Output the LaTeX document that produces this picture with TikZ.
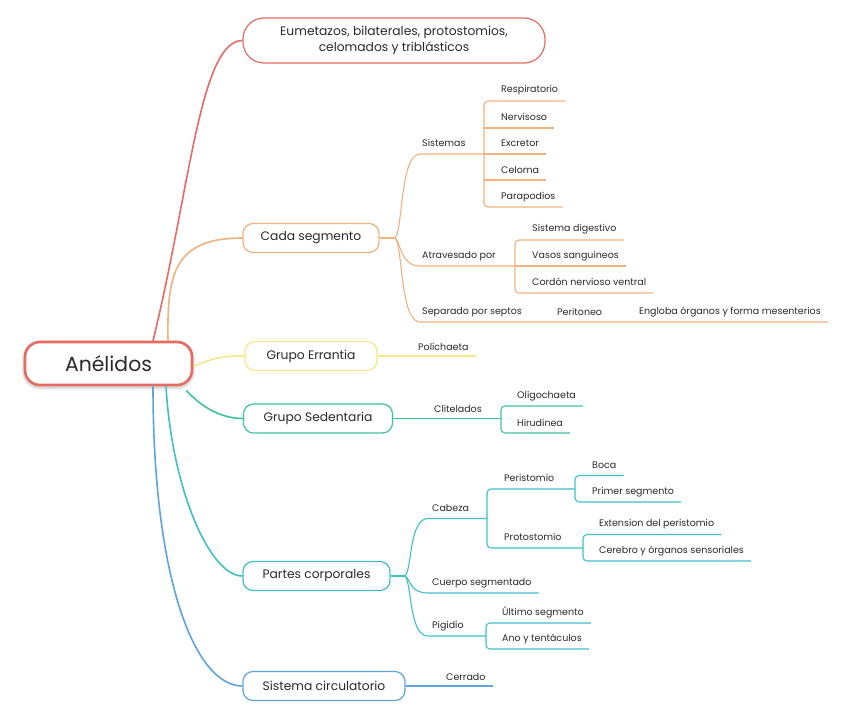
\documentclass[tikz,border=0pt]{standalone}
\usepackage{fontspec}
\setmainfont{Poppins}
\begin{document}
\begin{tikzpicture}[x=1pt,y=-1pt,
  txt/.style={text=textc,inner ysep=0pt,inner xsep=7pt,anchor=west,font=\fontsize{9.5}{11}\selectfont},
  lvl/.style={draw=#1,line width=1.2pt,rounded corners=10pt,minimum height=29pt,inner sep=0pt,text=textc,font=\fontsize{12.3}{14}\selectfont},
  con/.style={draw=#1,line width=1.6pt},
  sub/.style={draw=#1,line width=1.1pt,rounded corners=4pt},
  ]
\definecolor{textc}{HTML}{2A2A2A}
\definecolor{cred}{HTML}{E56B63}
\definecolor{corange}{HTML}{F2B27F}
\definecolor{cyellow}{HTML}{F5E88A}
\definecolor{cgreen}{HTML}{3FC2A0}
\definecolor{cteal}{HTML}{40BFC9}
\definecolor{cblue}{HTML}{5FA3DF}
\useasboundingbox[fill=white] (0,0) rectangle (848,725);

% ---------- root ----------
\foreach \w/\o in {7/0.04,5/0.05,3.5/0.06}{
  \draw[line width=\w pt,draw=black,opacity=\o,rounded corners=15pt] (25,343.5) rectangle (192,386.5);}
\node[draw=cred,line width=2.6pt,rounded corners=15pt,fill=white,minimum width=167pt,minimum height=43pt,inner sep=0pt,text=textc,font=\fontsize{20.4}{23}\selectfont] (root) at (108.5,363.5) {Anélidos};

% ---------- level 1 ----------
\node[lvl=cred,rounded corners=21pt,minimum width=302pt,minimum height=45pt,align=center,font=\fontsize{12.3}{16}\selectfont] (top) at (394,40.5) {Eumetazos, bilaterales, protostomios,\\celomados y triblásticos};
\node[lvl=corange,minimum width=136pt] (cada) at (311,238) {Cada segmento};
\node[lvl=cyellow,minimum width=132pt] (erran) at (311,356) {Grupo Errantia};
\node[lvl=cgreen,minimum width=149pt] (sed) at (318,418.5) {Grupo Sedentaria};
\node[lvl=cteal,minimum width=147pt] (partes) at (316.5,576) {Partes corporales};
\node[lvl=cblue,minimum width=162pt] (circ) at (324,686) {Sistema circulatorio};

% ---------- root connectors ----------
\draw[con=cred] ([xshift=44.5pt]root.north) .. controls (190,190) and (200,40.5) .. (top.west);
\draw[con=corange] ([xshift=59.5pt]root.north) .. controls (167,275) and (173,238) .. (cada.west);
\draw[con=cyellow] ([yshift=-3pt]root.east) .. controls (215,357) and (225,356) .. (erran.west);
\draw[con=cgreen] ([xshift=-7pt,yshift=-4pt]root.south east) .. controls (195,400) and (215,418.5) .. (sed.west);
\draw[con=cteal] ([xshift=57.5pt]root.south) .. controls (172,490) and (210,576) .. (partes.west);
\draw[con=cblue] ([xshift=44.5pt]root.south) .. controls (153,580) and (195,686) .. (circ.west);

% ---------- Cada segmento ----------
\coordinate (cadaJ) at (395,238);
\node[txt] (sist) at (415,143) {Sistemas};
\node[txt] (atrav) at (415,256) {Atravesado por};
\node[txt] (sep) at (415,312) {Separado por septos};
\node[txt] (perit) at (550,312) {Peritoneo};
\node[txt] (engl) at (632,312) {Engloba órganos y forma mesenterios};
\coordinate (sistB) at (484,154);
\coordinate (atravB) at (515,266);
\coordinate (sepE) at (420,322);
\draw[con=corange,line width=1.1pt] (cada.east) -- (cadaJ);
\draw[con=corange,line width=1.1pt] (cadaJ) .. controls (403,230) and (400,154) .. (420,154) -- (sistB);
\draw[con=corange,line width=1.1pt] (cadaJ) .. controls (401,242) and (400,266) .. (420,266) -- (atravB);
\draw[con=corange,line width=1.1pt] (cadaJ) .. controls (403,246) and (400,322) .. (sepE) -- (engl.east |- sepE);

\node[txt] (resp) at (494,90) {Respiratorio};
\node[txt] (nerv) at (494,117) {Nervisoso};
\node[txt] (excr) at (494,143) {Excretor};
\node[txt] (celo) at (494,170) {Celoma};
\node[txt] (para) at (494,197) {Parapodios};
\coordinate (respB) at (484,101);
\coordinate (nervB) at (484,128);
\coordinate (celoB) at (484,180);
\coordinate (paraB) at (484,207);
\draw[sub=corange] (resp.east |- respB) -- (respB) -- (paraB) -- (para.east |- paraB);
\draw[sub=corange] (nervB) -- (nerv.east |- nervB);
\draw[sub=corange] (sistB) -- (excr.east |- sistB);
\draw[sub=corange] (celoB) -- (celo.east |- celoB);

\node[txt] (dig) at (525,229) {Sistema digestivo};
\node[txt] (vasos) at (525,256) {Vasos sanguineos};
\node[txt] (cord) at (525,282) {Cordón nervioso ventral};
\coordinate (digB) at (515,240);
\coordinate (cordB) at (515,293);
\draw[sub=corange] (dig.east |- digB) -- (digB) -- (cordB) -- (cord.east |- cordB);
\draw[sub=corange] (atravB) -- (vasos.east |- atravB);

% ---------- Errantia ----------
\node[txt] (poli) at (411,347) {Polichaeta};
\coordinate (erranE) at (poli.east |- erran.east);
\draw[con=cyellow,line width=1.1pt] (erran.east) -- (erranE);

% ---------- Sedentaria ----------
\node[txt] (clit) at (427,409) {Clitelados};
\coordinate (clitB) at (501,418.5);
\draw[con=cgreen,line width=1.1pt] (sed.east) -- (clitB);
\node[txt] (olig) at (510,396) {Oligochaeta};
\node[txt] (hiru) at (510,422.5) {Hirudinea};
\coordinate (oligB) at (501,406);
\coordinate (hiruB) at (501,433);
\draw[sub=cgreen] (olig.east |- oligB) -- (oligB) -- (hiruB) -- (hiru.east |- hiruB);

% ---------- Partes corporales ----------
\coordinate (partJ) at (405,576);
\node[txt] (cabeza) at (425,508) {Cabeza};
\node[txt] (cuerpo) at (425,583) {Cuerpo segmentado};
\node[txt] (pigid) at (425,626) {Pigidio};
\coordinate (cabB) at (487,518.5);
\coordinate (cuerE) at (428,593);
\coordinate (pigB) at (486,636);
\draw[con=cteal,line width=1.1pt] (partes.east) -- (partJ);
\draw[con=cteal,line width=1.1pt] (partJ) .. controls (412,570) and (409,518.5) .. (428,518.5) -- (cabB);
\draw[con=cteal,line width=1.1pt] (partJ) .. controls (411,580) and (410,593) .. (cuerE) -- (cuerpo.east |- cuerE);
\draw[con=cteal,line width=1.1pt] (partJ) .. controls (412,584) and (409,636) .. (428,636) -- (pigB);

\node[txt] (peris) at (497,478) {Peristomio};
\node[txt] (proto) at (497,537) {Protostomio};
\coordinate (perisT) at (487,489);
\coordinate (protoT) at (487,548);
\coordinate (perisB) at (575,489);
\coordinate (protoB) at (583,548);
\draw[sub=cteal] (perisB) -- (perisT) -- (protoT) -- (protoB);

\node[txt] (boca) at (585,465) {Boca};
\node[txt] (primer) at (585,492) {Primer segmento};
\coordinate (bocaB) at (575,475.5);
\coordinate (primB) at (575,502);
\draw[sub=cteal] (boca.east |- bocaB) -- (bocaB) -- (primB) -- (primer.east |- primB);

\node[txt] (ext) at (592,524) {Extension del peristomio};
\node[txt] (cere) at (592,551) {Cerebro y órganos sensoriales};
\coordinate (extB) at (583,534.5);
\coordinate (cereB) at (583,561);
\draw[sub=cteal] (ext.east |- extB) -- (extB) -- (cereB) -- (cere.east |- cereB);

\node[txt] (ultimo) at (495,612) {Último segmento};
\node[txt] (ano) at (495,639) {Ano y tentáculos};
\coordinate (ultB) at (486,623);
\coordinate (anoB) at (486,649);
\draw[sub=cteal] (ultimo.east |- ultB) -- (ultB) -- (anoB) -- (ano.east |- anoB);

% ---------- Sistema circulatorio ----------
\node[txt] (cerr) at (439,677) {Cerrado};
\coordinate (circE) at (cerr.east |- circ.east);
\draw[con=cblue,line width=1.1pt] (circ.east) -- (circE);
\end{tikzpicture}
\end{document}
